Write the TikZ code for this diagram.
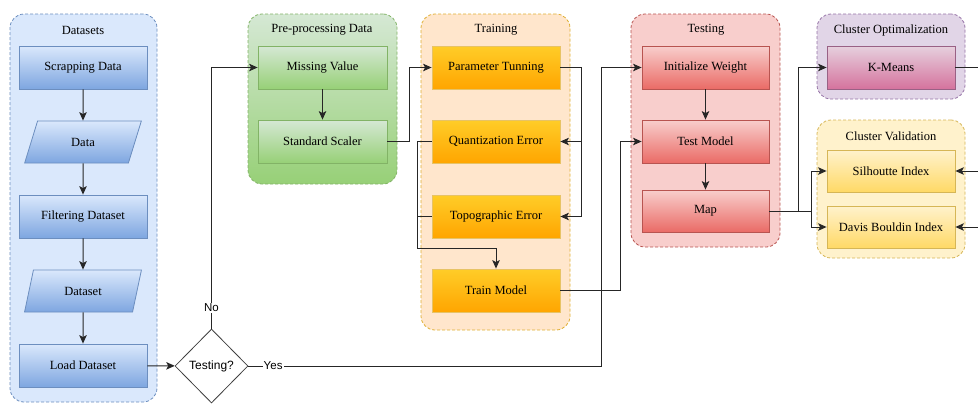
\documentclass[tikz,border=0pt]{standalone}
\usepackage{fontspec}
\setmainfont{Liberation Serif}
\newfontfamily\labelfont{Liberation Sans}
\usetikzlibrary{shapes.geometric,arrows.meta,positioning,calc}

\definecolor{blueFill}{HTML}{DAE8FC}
\definecolor{blueDark}{HTML}{7EA6E0}
\definecolor{blueLine}{HTML}{6C8EBF}
\definecolor{greenFill}{HTML}{D5E8D4}
\definecolor{greenDark}{HTML}{97D077}
\definecolor{greenLine}{HTML}{82B366}
\definecolor{orangeFill}{HTML}{FFE6CC}
\definecolor{orangeTop}{HTML}{FFCD28}
\definecolor{orangeDark}{HTML}{FFA500}
\definecolor{orangeLine}{HTML}{D79B00}
\definecolor{redFill}{HTML}{F8CECC}
\definecolor{redDark}{HTML}{EA6B66}
\definecolor{redLine}{HTML}{B85450}
\definecolor{purpleFill}{HTML}{E1D5E7}
\definecolor{pinkTop}{HTML}{E6D0DE}
\definecolor{pinkDark}{HTML}{D5739D}
\definecolor{purpleLine}{HTML}{9673A6}
\definecolor{pinkLine}{HTML}{996185}
\definecolor{yellowFill}{HTML}{FFF2CC}
\definecolor{yellowDark}{HTML}{FFD966}
\definecolor{yellowLine}{HTML}{D6B656}

\tikzset{
	group/.style = {rectangle, rounded corners=14pt, dash pattern=on 3pt off 2pt, line width=0.8pt, inner sep=0pt},
	grouptitle/.style = {font=\fontsize{12.5}{14}\selectfont, inner sep=0pt},
	stepbox/.style = {draw, rectangle, minimum height=43pt, minimum width=128pt, inner sep=0pt, line width=0.8pt, font=\fontsize{12.5}{14}\selectfont},
	databox/.style = {draw, trapezium, trapezium left angle=68, trapezium right angle=112, trapezium stretches=true, minimum height=42pt, minimum width=117pt, inner sep=0pt, line width=0.8pt, font=\fontsize{12.5}{14}\selectfont},
	bluebox/.style = {draw=blueLine, top color=blueFill, bottom color=blueDark},
	greenbox/.style = {draw=greenLine, top color=greenFill, bottom color=greenDark},
	orangebox/.style = {draw=orangeLine!60, top color=orangeTop, bottom color=orangeDark},
	redbox/.style = {draw=redLine, top color=redFill, bottom color=redDark},
	pinkbox/.style = {draw=pinkLine, top color=pinkTop, bottom color=pinkDark},
	yellowbox/.style = {draw=yellowLine, top color=yellowFill, bottom color=yellowDark},
	decision/.style = {draw=black!75, fill=white, diamond, minimum width=73pt, minimum height=74pt, inner sep=0pt, line width=0.8pt, font=\labelfont\fontsize{12}{14}\selectfont},
	lbl/.style = {fill=white, inner sep=1pt, font=\labelfont\fontsize{11.5}{13}\selectfont},
	line/.style = {draw=black!85, line width=1pt},
	arr/.style = {line, -{Stealth[length=8.5pt,width=7.5pt,inset=2pt]}}
}

\begin{document}
\begin{tikzpicture}[x=1pt,y=-1pt]
	\useasboundingbox (0,0) rectangle (978,405);
	% groups
	\node[group, draw=blueLine, fill=blueFill, minimum width=147pt, minimum height=388pt] (gdata) at (83.5,208) {};
	\node[group, draw=greenLine, top color=greenFill, bottom color=greenDark, minimum width=149pt, minimum height=170pt] (gprep) at (322.5,99) {};
	\node[group, draw=orangeLine!80, fill=orangeFill, minimum width=149pt, minimum height=316pt] (gtrain) at (495.5,172) {};
	\node[group, draw=redLine, fill=redFill, minimum width=149pt, minimum height=233pt] (gtest) at (705.5,130.5) {};
	\node[group, draw=purpleLine, fill=purpleFill, minimum width=148pt, minimum height=85pt] (gopt) at (891,56.5) {};
	\node[group, draw=yellowLine, fill=yellowFill, minimum width=148pt, minimum height=138pt] (gval) at (891,189) {};
	\node[grouptitle] (tdata) at (83,30) {Datasets};
	\node[grouptitle] (tprep) at (322,30) {Pre-processing Data};
	\node[grouptitle] (ttrain) at (496,30) {Training};
	\node[grouptitle] (ttest) at (706,30) {Testing};
	\node[grouptitle] (topt) at (891,30) {Cluster Optimalization};
	\node[grouptitle] (tval) at (891,136) {Cluster Validation};

	% datasets
	\node[stepbox, bluebox] (scrap) at (83,67.5) {Scrapping Data};
	\node[databox, bluebox] (data) at (83,142) {Data};
	\node[stepbox, bluebox] (filter) at (83,216.5) {Filtering Dataset};
	\node[databox, bluebox] (dset) at (83,291) {Dataset};
	\node[stepbox, bluebox] (load) at (83,365.5) {Load Dataset};
	\node[decision] (dec) at (211.5,366) {Testing?};

	% pre-processing
	\node[stepbox, greenbox, minimum width=129pt] (mv) at (322.5,67.5) {Missing Value};
	\node[stepbox, greenbox, minimum width=129pt] (ss) at (322.5,141.5) {Standard Scaler};

	% training
	\node[stepbox, orangebox] (pt) at (496,67.5) {Parameter Tunning};
	\node[stepbox, orangebox] (qe) at (496,141.5) {Quantization Error};
	\node[stepbox, orangebox] (te) at (496,216.5) {Topographic Error};
	\node[stepbox, orangebox] (tm) at (496,290.5) {Train Model};

	% testing
	\node[stepbox, redbox, minimum width=127pt] (iw) at (705.5,67.5) {Initialize Weight};
	\node[stepbox, redbox, minimum width=127pt] (tmod) at (705.5,141.5) {Test Model};
	\node[stepbox, redbox, minimum width=127pt, minimum height=42pt] (map) at (705.5,211) {Map};

	% clusters
	\node[stepbox, pinkbox] (km) at (891,67.5) {K-Means};
	\node[stepbox, yellowbox, minimum height=42pt] (si) at (891,171) {Silhoutte Index};
	\node[stepbox, yellowbox, minimum height=42pt] (db) at (891,227) {Davis Bouldin Index};
	\coordinate (kmout) at (980,67.5);
	\coordinate (siin) at (980,171);
	\coordinate (dbin) at (980,227);

	% connectors
	\draw[arr] (scrap) -- (data);
	\draw[arr] (data) -- (filter);
	\draw[arr] (filter) -- (dset);
	\draw[arr] (dset) -- (load);
	\draw[arr] (load) -- (dec);
	\draw[arr] (dec.north) |- node[lbl, pos=0.04] {No} (mv.west);
	\draw[arr] (dec.east) -| node[lbl, pos=0.035] {Yes} ($(iw.west)+(-40,0)$) -- (iw.west);
	\draw[arr] (mv) -- (ss);
	\draw[arr] (ss.east) -- ++(22,0) |- (pt.west);
	\draw[arr] (pt.east) -- ++(21,0) |- (qe.east);
	\draw[arr] (pt.east) -- ++(21,0) |- (te.east);
	\draw[line] (te.west) -- ++(-14,0);
	\draw[arr] (qe.west) -- ++(-14,0) |- ($(tm.north)+(0,-20)$) -- (tm.north);
	\draw[arr] (tm.east) -- ++(60,0) |- (tmod.west);
	\draw[arr] (iw) -- (tmod);
	\draw[arr] (tmod) -- (map);
	\draw[arr] (map.east) -- ++(29,0) |- (km.west);
	\draw[arr] (map.east) -- ++(42,0) |- (si.west);
	\draw[arr] (map.east) -- ++(42,0) |- (db.west);
	\draw[line] (km.east) -- (kmout);
	\draw[arr] (siin) -- (si.east);
	\draw[arr] (dbin) -- (db.east);
\end{tikzpicture}
\end{document}
